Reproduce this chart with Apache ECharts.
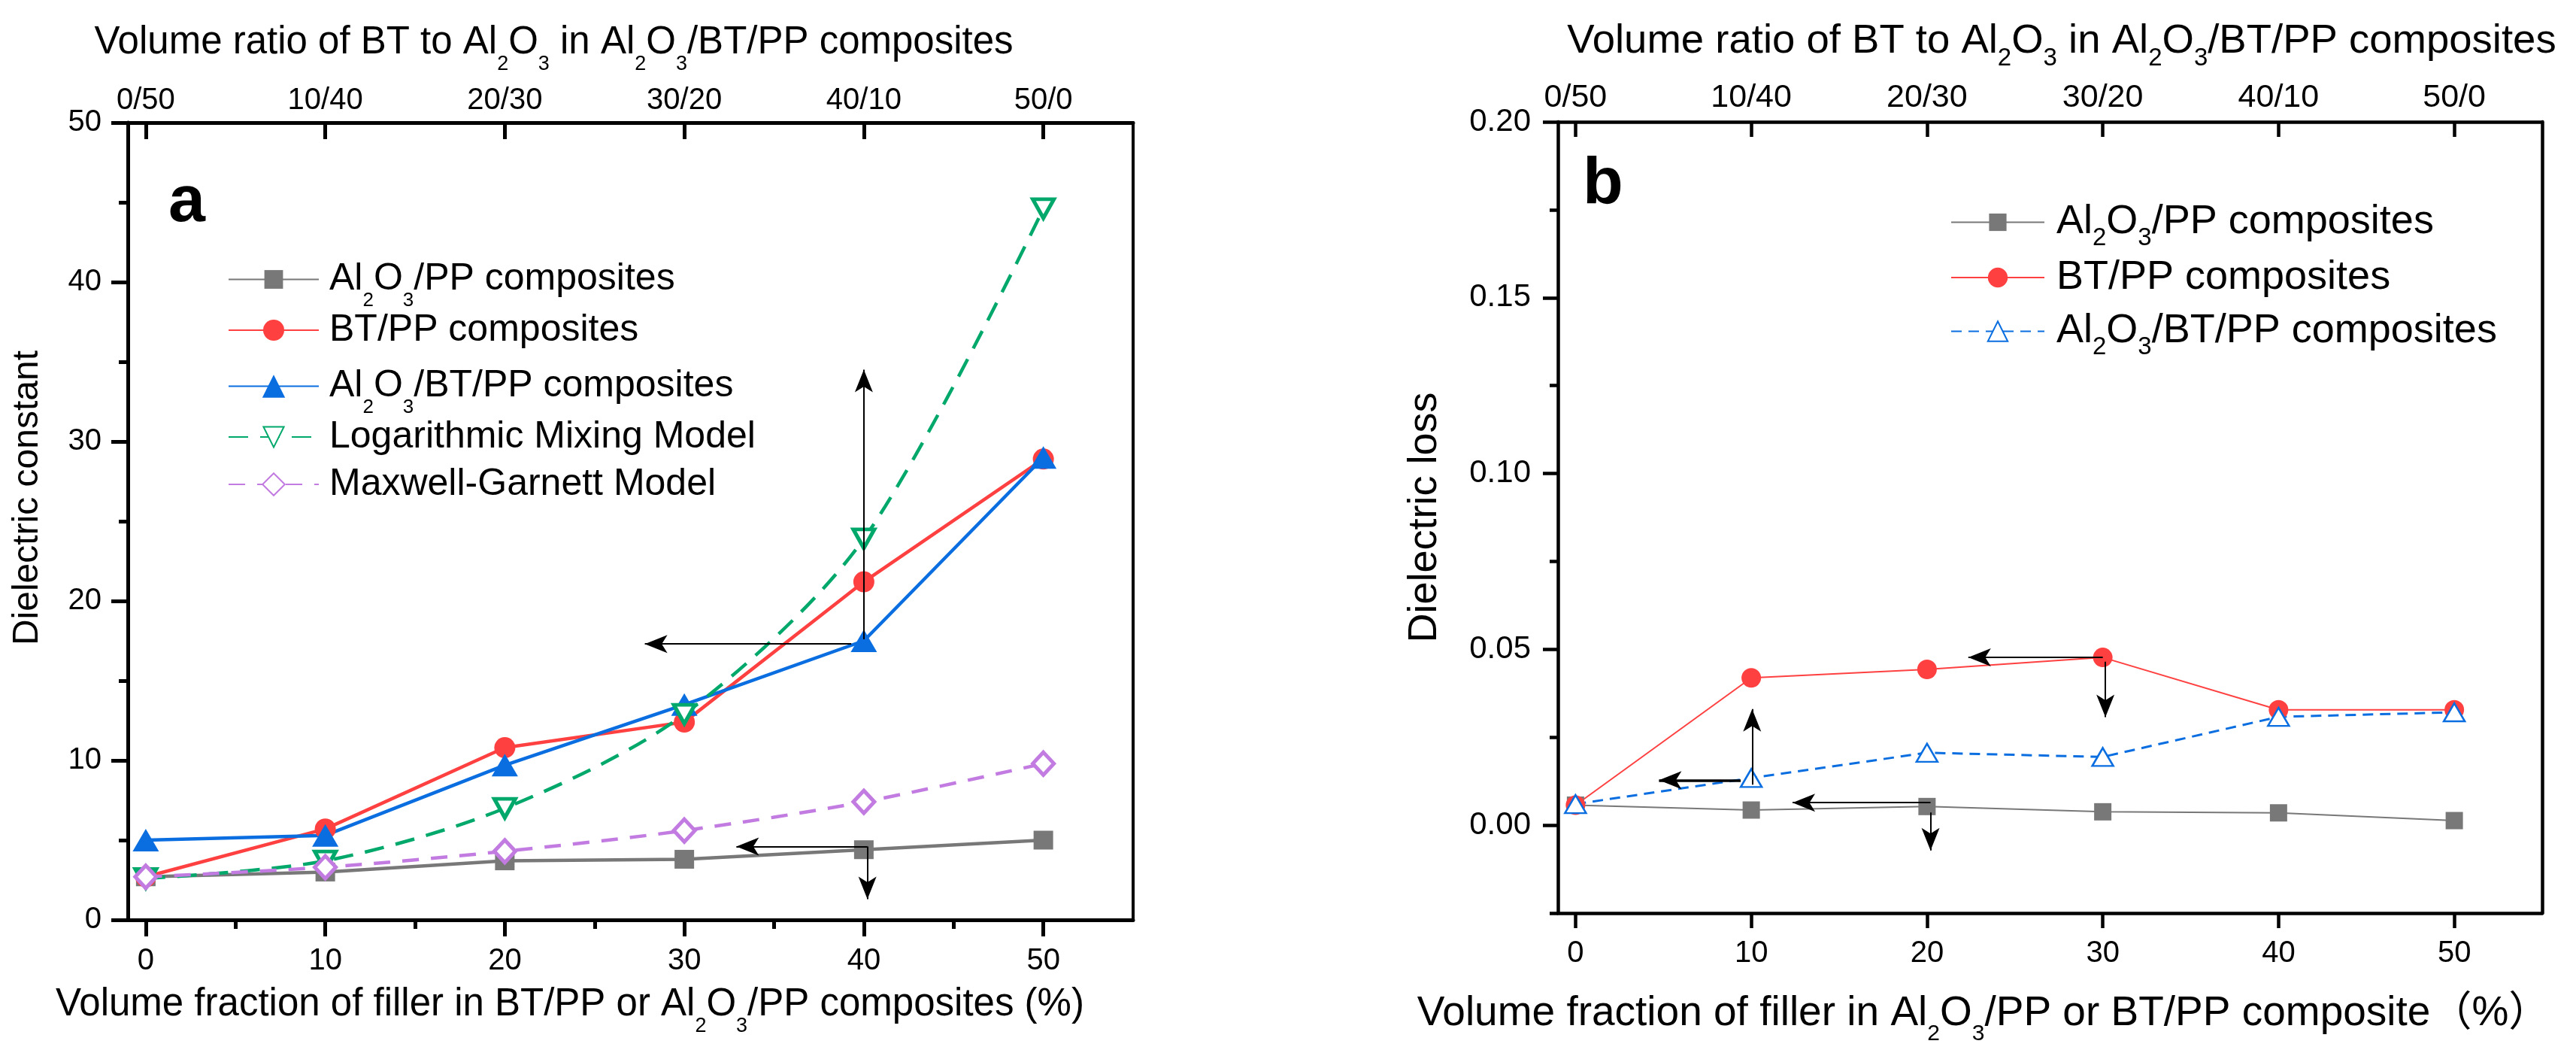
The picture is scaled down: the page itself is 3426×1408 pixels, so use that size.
<!DOCTYPE html>
<html>
<head>
<meta charset="utf-8">
<script src="https://cdn.jsdelivr.net/npm/echarts@6/dist/echarts.min.js"></script>
<style>
  html, body { margin: 0; padding: 0; background: #fff; }
  #chart { width: 3426px; height: 1408px; }
</style>
</head>
<body>
<div id="chart"></div>
<script>
// ---- data ----
const xValues = [0, 10, 20, 30, 40, 50];
const ratioLabels = ['0/50', '10/40', '20/30', '30/20', '40/10', '50/0'];
const xMinorTicks = [5, 15, 25, 35, 45];
const constTicks = [0, 10, 20, 30, 40, 50];
const constMinorTicks = [5, 15, 25, 35, 45];
const lossTicks = [0, 0.05, 0.10, 0.15, 0.20];
const lossMinorTicks = [-0.025, 0.025, 0.075, 0.125, 0.175];

// panel a: dielectric constant
const alPPConst = [2.7, 3.0, 3.7, 3.8, 4.4, 5.0];
const btPPConst = [2.7, 5.7, 10.8, 12.4, 21.2, 28.9];
const alBtPPConst = [5.0, 5.3, 9.7, 13.5, 17.5, 29.0];
const logMixing = [2.6, 3.7, 7.0, 12.9, 23.9, 44.6];
const maxwellGarnett = [2.7, 3.3, 4.3, 5.6, 7.4, 9.8];

// panel b: dielectric loss
const alPPLoss = [0.0057, 0.0043, 0.0053, 0.0038, 0.0035, 0.0013];
const btPPLoss = [0.0057, 0.0419, 0.0443, 0.0477, 0.0328, 0.0328];
const alBtPPLoss = [0.0060, 0.0134, 0.0206, 0.0194, 0.0308, 0.0321];

// arrows: [x1, y1, x2, y2, width], end = arrow head
const arrowsA = [
  [40, 17.6, 40, 34.5, 2],
  [39.3, 17.3, 27.8, 17.3, 2],
  [40.2, 4.6, 32.9, 4.6, 2],
  [40.2, 4.6, 40.2, 1.3, 2]
];
const arrowsB = [
  [30, 0.0477, 22.35, 0.0477, 2],
  [30.15, 0.0465, 30.15, 0.0307, 2],
  [10.05, 0.0115, 10.05, 0.0330, 2],
  [9.4, 0.0128, 4.75, 0.0128, 3.5],
  [20.2, 0.0064, 12.35, 0.0064, 2],
  [20.2, 0.0036, 20.2, -0.0072, 2]
];

const topTitle = 'Volume ratio of BT to Al2O3 in Al2O3/BT/PP composites';
const xTitleA = 'Volume fraction of filler in BT/PP or Al2O3/PP composites (%)';
const xTitleB = 'Volume fraction of filler in Al2O3/PP or BT/PP composite\uFF08%\uFF09';

const FONT = "'Liberation Sans', Arial, 'Noto Sans CJK SC', sans-serif";
const GREY = '#787878', RED = '#FF4040', BLUE = '#0A6EE0', GREEN = '#00A86B', PURPLE = '#C27BE0';

function chem(t) { return t.replace(/Al2O3/g, 'Al{s|2}O{s|3}'); }
function txt(fs, k, off, extra) {
  const lh = Math.round(fs * 1.2);
  return Object.assign({
    fontSize: fs, fontFamily: FONT, color: '#000', lineHeight: lh,
    rich: { s: { fontSize: Math.round(fs * k), fontFamily: FONT, color: '#000', lineHeight: lh,
                 verticalAlign: 'middle', padding: [Math.round(fs * off * 2), 0, 0, 0] } }
  }, extra || {});
}
const line = w => ({ show: true, onZero: false, lineStyle: { color: '#000', width: w } });
const noLine = { show: false, onZero: false };
const tick = (vals, len, w, inside) => ({ show: true, inside: !!inside, customValues: vals, length: len, lineStyle: { color: '#000', width: w } });
const lab = (vals, fs, margin, fmt) => ({ show: true, customValues: vals, fontSize: fs, fontFamily: FONT, color: '#000', margin: margin, formatter: fmt });
const off = { show: false };

function arrowLine(list) {
  return {
    silent: true, animation: false, symbol: ['none', 'arrow'], symbolSize: [18, 30],
    label: { show: false }, emphasis: { disabled: true },
    lineStyle: { color: '#000', width: 2, type: 'solid' },
    data: list.map(a => [{ coord: [a[0], a[1]], lineStyle: { width: a[4] } }, { coord: [a[2], a[3]] }])
  };
}

function legends(items, cfg) {
  return items.map((it, i) => ({
    data: [it.name], orient: 'vertical', left: cfg.x, top: cfg.cy[i] - Math.round(cfg.fs * 1.2) / 2,
    padding: 0, itemWidth: cfg.iw, itemHeight: it.ih, itemGap: 0, selectedMode: false,
    formatter: n => chem(n.replace(' (b)', '')),
    textStyle: txt(cfg.fs, cfg.k, cfg.off, { padding: [0, 0, 0, cfg.gap] })
  }));
}

const xr = { type: 'value', min: -1, max: 55, splitLine: off, nameMoveOverlap: false };

const option = {
  animation: false,
  backgroundColor: '#fff',
  grid: [
    { left: 170, top: 163, width: 1337, height: 1060, outerBoundsMode: 'none' },
    { left: 2072, top: 162, width: 1309, height: 1052, outerBoundsMode: 'none' }
  ],
  xAxis: [
    Object.assign({}, xr, { gridIndex: 0, position: 'bottom', axisLine: line(5), axisTick: tick(xValues, 22, 5),
      axisLabel: lab(xValues, 40, 35), name: chem(xTitleA), nameLocation: 'middle', nameGap: 82,
      nameTextStyle: txt(51, 0.52, 0.57, { padding: [0, 161, 0, 0] }) }),
    Object.assign({}, xr, { gridIndex: 0, position: 'bottom', axisLine: noLine, axisTick: tick(xMinorTicks, 12, 5), axisLabel: off }),
    Object.assign({}, xr, { gridIndex: 0, position: 'top', axisLine: line(5), axisTick: tick(xValues, 22, 5, true),
      axisLabel: lab(xValues, 40, 9, v => ratioLabels[xValues.indexOf(v)]),
      name: chem(topTitle), nameLocation: 'middle', nameGap: 76,
      nameTextStyle: txt(51, 0.52, 0.57, { padding: [0, 204, 0, 0] }) }),
    Object.assign({}, xr, { gridIndex: 1, position: 'bottom', axisLine: line(4.5), axisTick: tick(xValues, 20, 4.5),
      axisLabel: lab(xValues, 40, 34), name: chem(xTitleB), nameLocation: 'middle', nameGap: 101,
      nameTextStyle: txt(55, 0.55, 0.48, { padding: [0, 177, 0, 0] }) }),
    Object.assign({}, xr, { gridIndex: 1, position: 'top', axisLine: line(4.5), axisTick: tick(xValues, 20, 4.5, true),
      axisLabel: lab(xValues, 43, 10, v => ratioLabels[xValues.indexOf(v)]),
      name: chem(topTitle), nameLocation: 'middle', nameGap: 75,
      nameTextStyle: txt(54.5, 0.6, 0.42, { padding: [0, 0, 0, 31] }) })
  ],
  yAxis: [
    { gridIndex: 0, type: 'value', min: 0, max: 50, position: 'left', splitLine: off, nameMoveOverlap: false,
      axisLine: line(5), axisTick: tick(constTicks, 22, 5), axisLabel: lab(constTicks, 40, 35),
      name: 'Dielectric constant', nameLocation: 'middle', nameGap: 104,
      nameTextStyle: txt(48, 0.5, 0.5, { padding: [0, 0, 0, 62] }) },
    { gridIndex: 0, type: 'value', min: 0, max: 50, position: 'left', splitLine: off,
      axisLine: noLine, axisTick: tick(constMinorTicks, 12, 5), axisLabel: off },
    { gridIndex: 0, type: 'value', min: 0, max: 50, position: 'right', splitLine: off,
      axisLine: line(4), axisTick: off, axisLabel: off },
    { gridIndex: 1, type: 'value', min: -0.025, max: 0.2, position: 'left', splitLine: off, nameMoveOverlap: false,
      axisLine: line(4.5), axisTick: tick(lossTicks, 20, 4.5), axisLabel: lab(lossTicks, 42, 36, v => v.toFixed(2)),
      name: 'Dielectric loss', nameLocation: 'middle', nameGap: 144,
      nameTextStyle: txt(54, 0.5, 0.5) },
    { gridIndex: 1, type: 'value', min: -0.025, max: 0.2, position: 'left', splitLine: off,
      axisLine: noLine, axisTick: tick(lossMinorTicks, 11, 4.5), axisLabel: off },
    { gridIndex: 1, type: 'value', min: -0.025, max: 0.2, position: 'right', splitLine: off,
      axisLine: line(4.5), axisTick: off, axisLabel: off }
  ],
  legend: legends([
    { name: 'Al2O3/PP composites', ih: 31 },
    { name: 'BT/PP composites', ih: 35 },
    { name: 'Al2O3/BT/PP composites', ih: 38 },
    { name: 'Logarithmic Mixing Model', ih: 34 },
    { name: 'Maxwell-Garnett Model', ih: 37 }
  ], { x: 303, iw: 120, fs: 50, k: 0.52, off: 0.57, gap: 9, cy: [360, 439, 502, 581, 644] }).concat(legends([
    { name: 'Al2O3/PP composites (b)', ih: 29 },
    { name: 'BT/PP composites (b)', ih: 33 },
    { name: 'Al2O3/BT/PP composites (b)', ih: 33 }
  ], { x: 2594, iw: 124, fs: 54, k: 0.62, off: 0.4, gap: 11, cy: [290, 369, 435] })),
  graphic: [
    { type: 'text', left: 224, top: 226, style: { text: 'a', font: 'bold 88px ' + FONT, fill: '#000' } },
    { type: 'text', left: 2105, top: 202, style: { text: 'b', font: 'bold 88px ' + FONT, fill: '#000' } }
  ],
  series: [
    { name: 'Al2O3/PP composites', type: 'line', xAxisIndex: 0, yAxisIndex: 0,
      data: xValues.map((x, i) => [x, alPPConst[i]]),
      symbol: 'rect', symbolSize: [26, 25], itemStyle: { color: GREY },
      lineStyle: { color: GREY, width: 4.5 }, markLine: arrowLine(arrowsA) },
    { name: 'BT/PP composites', type: 'line', xAxisIndex: 0, yAxisIndex: 0,
      data: xValues.map((x, i) => [x, btPPConst[i]]),
      symbol: 'circle', symbolSize: 28, itemStyle: { color: RED }, lineStyle: { color: RED, width: 4.5 } },
    { name: 'Al2O3/BT/PP composites', type: 'line', xAxisIndex: 0, yAxisIndex: 0,
      data: xValues.map((x, i) => [x, alBtPPConst[i]]),
      symbol: 'triangle', symbolSize: [35, 30], itemStyle: { color: BLUE }, lineStyle: { color: BLUE, width: 4.5 } },
    { name: 'Logarithmic Mixing Model', type: 'line', xAxisIndex: 0, yAxisIndex: 0,
      data: xValues.map((x, i) => [x, logMixing[i]]), smooth: 0.3,
      symbol: 'triangle', symbolRotate: 180, symbolSize: [28, 25],
      itemStyle: { color: '#fff', borderColor: GREEN, borderWidth: 5 },
      lineStyle: { color: GREEN, width: 4.5, type: [26, 16] } },
    { name: 'Maxwell-Garnett Model', type: 'line', xAxisIndex: 0, yAxisIndex: 0,
      data: xValues.map((x, i) => [x, maxwellGarnett[i]]), smooth: 0.3,
      symbol: 'diamond', symbolSize: [28, 30],
      itemStyle: { color: '#fff', borderColor: PURPLE, borderWidth: 5 },
      lineStyle: { color: PURPLE, width: 4.5, type: [22, 16] } },

    { name: 'Al2O3/PP composites (b)', type: 'line', xAxisIndex: 3, yAxisIndex: 3,
      data: xValues.map((x, i) => [x, alPPLoss[i]]),
      symbol: 'rect', symbolSize: 23, itemStyle: { color: GREY },
      lineStyle: { color: GREY, width: 2 }, markLine: arrowLine(arrowsB) },
    { name: 'BT/PP composites (b)', type: 'line', xAxisIndex: 3, yAxisIndex: 3,
      data: xValues.map((x, i) => [x, btPPLoss[i]]),
      symbol: 'circle', symbolSize: 26, itemStyle: { color: RED }, lineStyle: { color: RED, width: 2 } },
    { name: 'Al2O3/BT/PP composites (b)', type: 'line', xAxisIndex: 3, yAxisIndex: 3,
      data: xValues.map((x, i) => [x, alBtPPLoss[i]]),
      symbol: 'triangle', symbolSize: [28, 24],
      itemStyle: { color: '#fff', borderColor: BLUE, borderWidth: 2.5 },
      lineStyle: { color: BLUE, width: 3, type: [14, 9] } }
  ]
};

const chart = echarts.init(document.getElementById('chart'));
chart.setOption(option);
</script>
</body>
</html>
